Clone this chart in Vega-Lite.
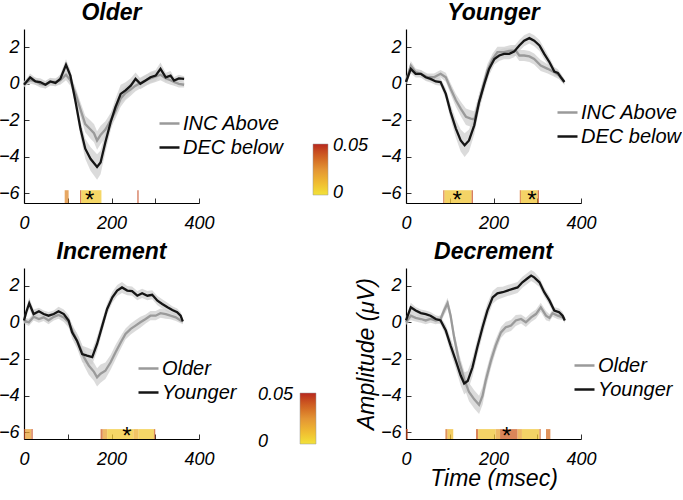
{
"$schema":"https://vega.github.io/schema/vega-lite/v6.json",
"autosize":{"type":"pad"},
"padding":{"left":-2,"top":2,"right":0,"bottom":0},
"background":"white",
"config":{
 "font":"Liberation Sans",
 "view":{"stroke":null},
 "scale":{"nice":false,"zero":false},
 "axis":{"domainColor":"#000","domainWidth":1.2,"tickColor":"#333","tickSize":-5,"tickWidth":1,"grid":false,"labelFont":"Liberation Sans","labelFontStyle":"italic","labelFontSize":18,"labelColor":"#000","titleFont":"Liberation Sans","titleFontStyle":"italic","titleFontWeight":"normal","titleFontSize":23,"titleColor":"#000","labelFlush":false},
 "axisX":{"labelPadding":16,"values":[0,50,100,150,200,250,300,350,400],"labelExpr":"datum.value % 200 === 0 ? datum.label : ''"},
 "axisY":{"labelPadding":10,"values":[-6,-4,-2,0,2]},
 "title":{"font":"Liberation Sans","fontSize":23,"fontWeight":"bold","fontStyle":"italic","color":"#000","offset":4},
 "legend":{"labelFont":"Liberation Sans","labelFontStyle":"italic","labelFontSize":20,"labelColor":"#000","symbolType":"stroke","symbolStrokeWidth":2.5,"symbolSize":400,"labelOffset":2,"rowPadding":2,"padding":0}
},
"datasets":{
 "erp":[
{"p":"Older","s":"INC Above","t":0,"v":0.0,"e":0.15},{"p":"Older","s":"INC Above","t":14,"v":0.2,"e":0.2},{"p":"Older","s":"INC Above","t":26,"v":0.15,"e":0.2},{"p":"Older","s":"INC Above","t":37,"v":0.0,"e":0.2},{"p":"Older","s":"INC Above","t":49,"v":-0.05,"e":0.2},{"p":"Older","s":"INC Above","t":60,"v":0.1,"e":0.2},{"p":"Older","s":"INC Above","t":72,"v":0.1,"e":0.2},{"p":"Older","s":"INC Above","t":83,"v":0.2,"e":0.25},{"p":"Older","s":"INC Above","t":96,"v":0.5,"e":0.3},{"p":"Older","s":"INC Above","t":106,"v":0.2,"e":0.3},{"p":"Older","s":"INC Above","t":118,"v":-0.55,"e":0.35},{"p":"Older","s":"INC Above","t":129,"v":-1.4,"e":0.4},{"p":"Older","s":"INC Above","t":140,"v":-2.2,"e":0.45},{"p":"Older","s":"INC Above","t":152,"v":-2.5,"e":0.5},{"p":"Older","s":"INC Above","t":160,"v":-2.7,"e":0.5},{"p":"Older","s":"INC Above","t":167,"v":-3.1,"e":0.5},{"p":"Older","s":"INC Above","t":175,"v":-2.8,"e":0.5},{"p":"Older","s":"INC Above","t":186,"v":-2.5,"e":0.45},{"p":"Older","s":"INC Above","t":198,"v":-2.0,"e":0.4},{"p":"Older","s":"INC Above","t":209,"v":-1.5,"e":0.4},{"p":"Older","s":"INC Above","t":221,"v":-0.8,"e":0.45},{"p":"Older","s":"INC Above","t":232,"v":-0.5,"e":0.4},{"p":"Older","s":"INC Above","t":244,"v":-0.3,"e":0.35},{"p":"Older","s":"INC Above","t":255,"v":-0.1,"e":0.3},{"p":"Older","s":"INC Above","t":266,"v":0.05,"e":0.3},{"p":"Older","s":"INC Above","t":278,"v":0.2,"e":0.3},{"p":"Older","s":"INC Above","t":289,"v":0.3,"e":0.3},{"p":"Older","s":"INC Above","t":301,"v":0.4,"e":0.3},{"p":"Older","s":"INC Above","t":312,"v":0.5,"e":0.3},{"p":"Older","s":"INC Above","t":324,"v":0.3,"e":0.25},{"p":"Older","s":"INC Above","t":335,"v":0.2,"e":0.25},{"p":"Older","s":"INC Above","t":343,"v":0.1,"e":0.2},{"p":"Older","s":"INC Above","t":354,"v":0.0,"e":0.2},{"p":"Older","s":"INC Above","t":366,"v":-0.05,"e":0.15},
{"p":"Older","s":"DEC below","t":0,"v":-0.05,"e":0.15},{"p":"Older","s":"DEC below","t":14,"v":0.36,"e":0.2},{"p":"Older","s":"DEC below","t":26,"v":0.13,"e":0.2},{"p":"Older","s":"DEC below","t":37,"v":0.1,"e":0.2},{"p":"Older","s":"DEC below","t":49,"v":-0.05,"e":0.2},{"p":"Older","s":"DEC below","t":60,"v":0.13,"e":0.2},{"p":"Older","s":"DEC below","t":72,"v":0.05,"e":0.2},{"p":"Older","s":"DEC below","t":83,"v":0.27,"e":0.25},{"p":"Older","s":"DEC below","t":96,"v":1.04,"e":0.3},{"p":"Older","s":"DEC below","t":106,"v":0.45,"e":0.3},{"p":"Older","s":"DEC below","t":118,"v":-1.0,"e":0.35},{"p":"Older","s":"DEC below","t":129,"v":-2.45,"e":0.45},{"p":"Older","s":"DEC below","t":140,"v":-3.55,"e":0.55},{"p":"Older","s":"DEC below","t":152,"v":-4.1,"e":0.65},{"p":"Older","s":"DEC below","t":167,"v":-4.55,"e":0.7},{"p":"Older","s":"DEC below","t":175,"v":-4.3,"e":0.65},{"p":"Older","s":"DEC below","t":186,"v":-3.2,"e":0.55},{"p":"Older","s":"DEC below","t":198,"v":-2.1,"e":0.45},{"p":"Older","s":"DEC below","t":209,"v":-1.27,"e":0.45},{"p":"Older","s":"DEC below","t":221,"v":-0.55,"e":0.5},{"p":"Older","s":"DEC below","t":232,"v":-0.36,"e":0.45},{"p":"Older","s":"DEC below","t":244,"v":-0.1,"e":0.4},{"p":"Older","s":"DEC below","t":255,"v":0.27,"e":0.35},{"p":"Older","s":"DEC below","t":266,"v":0.0,"e":0.3},{"p":"Older","s":"DEC below","t":278,"v":0.18,"e":0.3},{"p":"Older","s":"DEC below","t":289,"v":0.36,"e":0.3},{"p":"Older","s":"DEC below","t":301,"v":0.45,"e":0.3},{"p":"Older","s":"DEC below","t":312,"v":0.82,"e":0.35},{"p":"Older","s":"DEC below","t":324,"v":0.36,"e":0.25},{"p":"Older","s":"DEC below","t":335,"v":0.45,"e":0.25},{"p":"Older","s":"DEC below","t":343,"v":0.18,"e":0.2},{"p":"Older","s":"DEC below","t":354,"v":0.3,"e":0.2},{"p":"Older","s":"DEC below","t":366,"v":0.27,"e":0.15},
{"p":"Younger","s":"INC Above","t":0,"v":0.13,"e":0.15},{"p":"Younger","s":"INC Above","t":11,"v":1.0,"e":0.25},{"p":"Younger","s":"INC Above","t":22,"v":0.64,"e":0.2},{"p":"Younger","s":"INC Above","t":34,"v":0.55,"e":0.2},{"p":"Younger","s":"INC Above","t":49,"v":0.36,"e":0.2},{"p":"Younger","s":"INC Above","t":64,"v":0.36,"e":0.2},{"p":"Younger","s":"INC Above","t":79,"v":0.55,"e":0.2},{"p":"Younger","s":"INC Above","t":91,"v":0.36,"e":0.25},{"p":"Younger","s":"INC Above","t":102,"v":-0.27,"e":0.3},{"p":"Younger","s":"INC Above","t":114,"v":-0.9,"e":0.35},{"p":"Younger","s":"INC Above","t":125,"v":-1.36,"e":0.4},{"p":"Younger","s":"INC Above","t":137,"v":-1.8,"e":0.45},{"p":"Younger","s":"INC Above","t":148,"v":-1.9,"e":0.45},{"p":"Younger","s":"INC Above","t":156,"v":-1.95,"e":0.45},{"p":"Younger","s":"INC Above","t":163,"v":-1.36,"e":0.45},{"p":"Younger","s":"INC Above","t":175,"v":-0.27,"e":0.4},{"p":"Younger","s":"INC Above","t":186,"v":0.73,"e":0.35},{"p":"Younger","s":"INC Above","t":198,"v":1.36,"e":0.3},{"p":"Younger","s":"INC Above","t":209,"v":1.73,"e":0.3},{"p":"Younger","s":"INC Above","t":224,"v":1.73,"e":0.3},{"p":"Younger","s":"INC Above","t":240,"v":1.82,"e":0.3},{"p":"Younger","s":"INC Above","t":251,"v":1.82,"e":0.3},{"p":"Younger","s":"INC Above","t":259,"v":1.55,"e":0.3},{"p":"Younger","s":"INC Above","t":270,"v":1.55,"e":0.3},{"p":"Younger","s":"INC Above","t":282,"v":1.5,"e":0.3},{"p":"Younger","s":"INC Above","t":293,"v":1.36,"e":0.3},{"p":"Younger","s":"INC Above","t":308,"v":1.0,"e":0.3},{"p":"Younger","s":"INC Above","t":324,"v":0.82,"e":0.25},{"p":"Younger","s":"INC Above","t":339,"v":0.64,"e":0.25},{"p":"Younger","s":"INC Above","t":350,"v":0.45,"e":0.2},{"p":"Younger","s":"INC Above","t":362,"v":0.1,"e":0.15},
{"p":"Younger","s":"DEC below","t":0,"v":0.1,"e":0.15},{"p":"Younger","s":"DEC below","t":11,"v":0.82,"e":0.25},{"p":"Younger","s":"DEC below","t":22,"v":0.55,"e":0.2},{"p":"Younger","s":"DEC below","t":34,"v":0.55,"e":0.2},{"p":"Younger","s":"DEC below","t":45,"v":0.36,"e":0.2},{"p":"Younger","s":"DEC below","t":56,"v":0.27,"e":0.2},{"p":"Younger","s":"DEC below","t":68,"v":0.13,"e":0.2},{"p":"Younger","s":"DEC below","t":79,"v":0.1,"e":0.2},{"p":"Younger","s":"DEC below","t":91,"v":-0.55,"e":0.3},{"p":"Younger","s":"DEC below","t":102,"v":-1.55,"e":0.4},{"p":"Younger","s":"DEC below","t":114,"v":-2.45,"e":0.5},{"p":"Younger","s":"DEC below","t":125,"v":-3.1,"e":0.6},{"p":"Younger","s":"DEC below","t":134,"v":-3.36,"e":0.65},{"p":"Younger","s":"DEC below","t":144,"v":-3.1,"e":0.6},{"p":"Younger","s":"DEC below","t":156,"v":-2.27,"e":0.5},{"p":"Younger","s":"DEC below","t":167,"v":-1.0,"e":0.45},{"p":"Younger","s":"DEC below","t":179,"v":0.0,"e":0.4},{"p":"Younger","s":"DEC below","t":190,"v":0.82,"e":0.35},{"p":"Younger","s":"DEC below","t":202,"v":1.36,"e":0.3},{"p":"Younger","s":"DEC below","t":213,"v":1.55,"e":0.3},{"p":"Younger","s":"DEC below","t":224,"v":1.64,"e":0.3},{"p":"Younger","s":"DEC below","t":236,"v":1.64,"e":0.3},{"p":"Younger","s":"DEC below","t":247,"v":1.76,"e":0.3},{"p":"Younger","s":"DEC below","t":259,"v":2.1,"e":0.3},{"p":"Younger","s":"DEC below","t":270,"v":2.36,"e":0.3},{"p":"Younger","s":"DEC below","t":282,"v":2.5,"e":0.3},{"p":"Younger","s":"DEC below","t":293,"v":2.36,"e":0.3},{"p":"Younger","s":"DEC below","t":305,"v":2.1,"e":0.3},{"p":"Younger","s":"DEC below","t":316,"v":1.64,"e":0.3},{"p":"Younger","s":"DEC below","t":328,"v":1.18,"e":0.25},{"p":"Younger","s":"DEC below","t":339,"v":0.67,"e":0.25},{"p":"Younger","s":"DEC below","t":347,"v":0.6,"e":0.2},{"p":"Younger","s":"DEC below","t":354,"v":0.36,"e":0.2},{"p":"Younger","s":"DEC below","t":362,"v":0.1,"e":0.15},
{"p":"Increment","s":"Older","t":0,"v":0.1,"e":0.15},{"p":"Increment","s":"Older","t":11,"v":0.0,"e":0.2},{"p":"Increment","s":"Older","t":22,"v":0.3,"e":0.2},{"p":"Increment","s":"Older","t":34,"v":0.18,"e":0.2},{"p":"Increment","s":"Older","t":45,"v":0.27,"e":0.2},{"p":"Increment","s":"Older","t":56,"v":0.1,"e":0.2},{"p":"Increment","s":"Older","t":68,"v":0.3,"e":0.2},{"p":"Increment","s":"Older","t":79,"v":0.4,"e":0.2},{"p":"Increment","s":"Older","t":91,"v":0.27,"e":0.25},{"p":"Increment","s":"Older","t":102,"v":0.0,"e":0.3},{"p":"Increment","s":"Older","t":114,"v":-0.64,"e":0.35},{"p":"Increment","s":"Older","t":125,"v":-1.18,"e":0.4},{"p":"Increment","s":"Older","t":137,"v":-1.9,"e":0.45},{"p":"Increment","s":"Older","t":148,"v":-2.36,"e":0.5},{"p":"Increment","s":"Older","t":160,"v":-2.7,"e":0.5},{"p":"Increment","s":"Older","t":167,"v":-3.0,"e":0.5},{"p":"Increment","s":"Older","t":175,"v":-2.8,"e":0.5},{"p":"Increment","s":"Older","t":186,"v":-2.64,"e":0.45},{"p":"Increment","s":"Older","t":198,"v":-2.18,"e":0.4},{"p":"Increment","s":"Older","t":209,"v":-1.64,"e":0.4},{"p":"Increment","s":"Older","t":221,"v":-1.1,"e":0.35},{"p":"Increment","s":"Older","t":232,"v":-0.64,"e":0.3},{"p":"Increment","s":"Older","t":244,"v":-0.36,"e":0.3},{"p":"Increment","s":"Older","t":255,"v":-0.18,"e":0.3},{"p":"Increment","s":"Older","t":266,"v":0.0,"e":0.3},{"p":"Increment","s":"Older","t":278,"v":0.18,"e":0.25},{"p":"Increment","s":"Older","t":289,"v":0.36,"e":0.25},{"p":"Increment","s":"Older","t":301,"v":0.36,"e":0.25},{"p":"Increment","s":"Older","t":312,"v":0.5,"e":0.25},{"p":"Increment","s":"Older","t":324,"v":0.45,"e":0.25},{"p":"Increment","s":"Older","t":335,"v":0.36,"e":0.2},{"p":"Increment","s":"Older","t":347,"v":0.27,"e":0.2},{"p":"Increment","s":"Older","t":358,"v":0.1,"e":0.15},{"p":"Increment","s":"Older","t":363,"v":0.04,"e":0.15},
{"p":"Increment","s":"Younger","t":0,"v":0.1,"e":0.15},{"p":"Increment","s":"Younger","t":5,"v":0.55,"e":0.25},{"p":"Increment","s":"Younger","t":12,"v":1.04,"e":0.3},{"p":"Increment","s":"Younger","t":22,"v":0.45,"e":0.25},{"p":"Increment","s":"Younger","t":34,"v":0.6,"e":0.2},{"p":"Increment","s":"Younger","t":45,"v":0.45,"e":0.2},{"p":"Increment","s":"Younger","t":56,"v":0.36,"e":0.2},{"p":"Increment","s":"Younger","t":68,"v":0.45,"e":0.2},{"p":"Increment","s":"Younger","t":79,"v":0.6,"e":0.25},{"p":"Increment","s":"Younger","t":91,"v":0.45,"e":0.25},{"p":"Increment","s":"Younger","t":102,"v":0.1,"e":0.3},{"p":"Increment","s":"Younger","t":110,"v":-0.55,"e":0.35},{"p":"Increment","s":"Younger","t":121,"v":-1.0,"e":0.4},{"p":"Increment","s":"Younger","t":133,"v":-1.73,"e":0.45},{"p":"Increment","s":"Younger","t":144,"v":-1.82,"e":0.45},{"p":"Increment","s":"Younger","t":156,"v":-1.9,"e":0.4},{"p":"Increment","s":"Younger","t":167,"v":-1.18,"e":0.4},{"p":"Increment","s":"Younger","t":179,"v":-0.18,"e":0.35},{"p":"Increment","s":"Younger","t":190,"v":0.73,"e":0.3},{"p":"Increment","s":"Younger","t":202,"v":1.36,"e":0.3},{"p":"Increment","s":"Younger","t":213,"v":1.73,"e":0.3},{"p":"Increment","s":"Younger","t":224,"v":1.9,"e":0.3},{"p":"Increment","s":"Younger","t":236,"v":1.73,"e":0.25},{"p":"Increment","s":"Younger","t":247,"v":1.7,"e":0.25},{"p":"Increment","s":"Younger","t":259,"v":1.45,"e":0.25},{"p":"Increment","s":"Younger","t":270,"v":1.58,"e":0.25},{"p":"Increment","s":"Younger","t":282,"v":1.45,"e":0.25},{"p":"Increment","s":"Younger","t":293,"v":1.5,"e":0.25},{"p":"Increment","s":"Younger","t":305,"v":1.18,"e":0.25},{"p":"Increment","s":"Younger","t":316,"v":1.0,"e":0.25},{"p":"Increment","s":"Younger","t":328,"v":0.82,"e":0.25},{"p":"Increment","s":"Younger","t":339,"v":0.67,"e":0.2},{"p":"Increment","s":"Younger","t":350,"v":0.55,"e":0.2},{"p":"Increment","s":"Younger","t":358,"v":0.36,"e":0.2},{"p":"Increment","s":"Younger","t":363,"v":0.05,"e":0.15},
{"p":"Decrement","s":"Older","t":0,"v":0.0,"e":0.15},{"p":"Decrement","s":"Older","t":11,"v":0.36,"e":0.25},{"p":"Decrement","s":"Older","t":22,"v":0.24,"e":0.2},{"p":"Decrement","s":"Older","t":34,"v":0.18,"e":0.2},{"p":"Decrement","s":"Older","t":45,"v":0.1,"e":0.2},{"p":"Decrement","s":"Older","t":56,"v":0.18,"e":0.2},{"p":"Decrement","s":"Older","t":68,"v":0.1,"e":0.2},{"p":"Decrement","s":"Older","t":79,"v":0.18,"e":0.2},{"p":"Decrement","s":"Older","t":87,"v":0.64,"e":0.25},{"p":"Decrement","s":"Older","t":95,"v":1.04,"e":0.3},{"p":"Decrement","s":"Older","t":102,"v":0.36,"e":0.3},{"p":"Decrement","s":"Older","t":110,"v":-0.82,"e":0.35},{"p":"Decrement","s":"Older","t":121,"v":-2.1,"e":0.4},{"p":"Decrement","s":"Older","t":133,"v":-3.1,"e":0.45},{"p":"Decrement","s":"Older","t":144,"v":-3.8,"e":0.5},{"p":"Decrement","s":"Older","t":156,"v":-4.2,"e":0.5},{"p":"Decrement","s":"Older","t":167,"v":-4.5,"e":0.5},{"p":"Decrement","s":"Older","t":175,"v":-4.0,"e":0.5},{"p":"Decrement","s":"Older","t":182,"v":-3.2,"e":0.45},{"p":"Decrement","s":"Older","t":194,"v":-2.1,"e":0.4},{"p":"Decrement","s":"Older","t":205,"v":-1.27,"e":0.35},{"p":"Decrement","s":"Older","t":217,"v":-0.55,"e":0.3},{"p":"Decrement","s":"Older","t":228,"v":-0.27,"e":0.3},{"p":"Decrement","s":"Older","t":240,"v":-0.18,"e":0.3},{"p":"Decrement","s":"Older","t":251,"v":0.1,"e":0.3},{"p":"Decrement","s":"Older","t":263,"v":0.18,"e":0.25},{"p":"Decrement","s":"Older","t":274,"v":0.0,"e":0.25},{"p":"Decrement","s":"Older","t":286,"v":0.27,"e":0.25},{"p":"Decrement","s":"Older","t":297,"v":0.45,"e":0.25},{"p":"Decrement","s":"Older","t":308,"v":0.82,"e":0.25},{"p":"Decrement","s":"Older","t":320,"v":0.36,"e":0.25},{"p":"Decrement","s":"Older","t":328,"v":0.24,"e":0.2},{"p":"Decrement","s":"Older","t":335,"v":0.5,"e":0.2},{"p":"Decrement","s":"Older","t":347,"v":0.36,"e":0.2},{"p":"Decrement","s":"Older","t":358,"v":0.27,"e":0.15},{"p":"Decrement","s":"Older","t":363,"v":0.18,"e":0.15},
{"p":"Decrement","s":"Younger","t":0,"v":0.1,"e":0.15},{"p":"Decrement","s":"Younger","t":11,"v":0.82,"e":0.25},{"p":"Decrement","s":"Younger","t":22,"v":0.64,"e":0.2},{"p":"Decrement","s":"Younger","t":34,"v":0.5,"e":0.2},{"p":"Decrement","s":"Younger","t":45,"v":0.45,"e":0.2},{"p":"Decrement","s":"Younger","t":56,"v":0.36,"e":0.2},{"p":"Decrement","s":"Younger","t":68,"v":0.18,"e":0.2},{"p":"Decrement","s":"Younger","t":79,"v":0.1,"e":0.2},{"p":"Decrement","s":"Younger","t":91,"v":-0.45,"e":0.3},{"p":"Decrement","s":"Younger","t":102,"v":-1.27,"e":0.4},{"p":"Decrement","s":"Younger","t":114,"v":-2.1,"e":0.45},{"p":"Decrement","s":"Younger","t":125,"v":-2.9,"e":0.55},{"p":"Decrement","s":"Younger","t":133,"v":-3.33,"e":0.6},{"p":"Decrement","s":"Younger","t":141,"v":-3.2,"e":0.55},{"p":"Decrement","s":"Younger","t":152,"v":-2.45,"e":0.5},{"p":"Decrement","s":"Younger","t":163,"v":-1.36,"e":0.45},{"p":"Decrement","s":"Younger","t":175,"v":-0.27,"e":0.45},{"p":"Decrement","s":"Younger","t":186,"v":0.64,"e":0.4},{"p":"Decrement","s":"Younger","t":198,"v":1.36,"e":0.35},{"p":"Decrement","s":"Younger","t":209,"v":1.58,"e":0.35},{"p":"Decrement","s":"Younger","t":221,"v":1.64,"e":0.3},{"p":"Decrement","s":"Younger","t":232,"v":1.73,"e":0.3},{"p":"Decrement","s":"Younger","t":244,"v":1.82,"e":0.3},{"p":"Decrement","s":"Younger","t":255,"v":1.9,"e":0.3},{"p":"Decrement","s":"Younger","t":266,"v":2.18,"e":0.3},{"p":"Decrement","s":"Younger","t":278,"v":2.4,"e":0.3},{"p":"Decrement","s":"Younger","t":286,"v":2.55,"e":0.3},{"p":"Decrement","s":"Younger","t":293,"v":2.45,"e":0.3},{"p":"Decrement","s":"Younger","t":305,"v":2.18,"e":0.25},{"p":"Decrement","s":"Younger","t":316,"v":1.64,"e":0.25},{"p":"Decrement","s":"Younger","t":328,"v":1.18,"e":0.25},{"p":"Decrement","s":"Younger","t":339,"v":0.64,"e":0.2},{"p":"Decrement","s":"Younger","t":350,"v":0.55,"e":0.2},{"p":"Decrement","s":"Younger","t":358,"v":0.36,"e":0.2},{"p":"Decrement","s":"Younger","t":363,"v":0.1,"e":0.15}
 ],
 "sig":[
{"p":"Older","t0":93,"t1":102,"pv":0.028},{"p":"Older","t0":128,"t1":131,"pv":0.042},{"p":"Older","t0":131,"t1":177,"pv":0.006},{"p":"Older","t0":259,"t1":262,"pv":0.045},
{"p":"Younger","t0":85,"t1":88,"pv":0.04},{"p":"Younger","t0":88,"t1":150,"pv":0.008},{"p":"Younger","t0":150,"t1":153,"pv":0.045},{"p":"Younger","t0":260,"t1":263,"pv":0.035},{"p":"Younger","t0":263,"t1":301,"pv":0.008},{"p":"Younger","t0":301,"t1":304,"pv":0.045},
{"p":"Increment","t0":0,"t1":3,"pv":0.045},{"p":"Increment","t0":3,"t1":17,"pv":0.02},{"p":"Increment","t0":17,"t1":20,"pv":0.045},{"p":"Increment","t0":175,"t1":180,"pv":0.04},{"p":"Increment","t0":180,"t1":190,"pv":0.02},{"p":"Increment","t0":190,"t1":250,"pv":0.006},{"p":"Increment","t0":250,"t1":262,"pv":0.015},{"p":"Increment","t0":262,"t1":297,"pv":0.006},{"p":"Increment","t0":297,"t1":300,"pv":0.04},
{"p":"Decrement","t0":0,"t1":4,"pv":0.045},{"p":"Decrement","t0":90,"t1":95,"pv":0.035},{"p":"Decrement","t0":95,"t1":108,"pv":0.01},{"p":"Decrement","t0":160,"t1":165,"pv":0.04},{"p":"Decrement","t0":165,"t1":205,"pv":0.008},{"p":"Decrement","t0":205,"t1":215,"pv":0.02},{"p":"Decrement","t0":215,"t1":255,"pv":0.04},{"p":"Decrement","t0":255,"t1":265,"pv":0.02},{"p":"Decrement","t0":265,"t1":305,"pv":0.008},{"p":"Decrement","t0":305,"t1":308,"pv":0.04},{"p":"Decrement","t0":320,"t1":330,"pv":0.035}
 ],
 "star":[{"p":"Older","t":150},{"p":"Younger","t":117},{"p":"Younger","t":288},{"p":"Increment","t":235},{"p":"Decrement","t":230}]
},
"spacing":{"row":65,"column":207},
"columns":2,
"bounds":"flush",
"resolve":{"scale":{"x":"independent","y":"independent","fill":"independent","stroke":"independent"},"axis":{"x":"independent","y":"independent"},"legend":{"fill":"independent","stroke":"independent"}},
"concat":[
 {"width":175,"height":174,"title":"Older",
  "layer":[
   {"data":{"name":"sig"},"transform":[{"filter":"datum.p==='Older'"}],"mark":{"type":"rect","fillOpacity":0.75},
    "encoding":{"x":{"field":"t0","type":"quantitative","title":null,"scale":{"domain":[0,400],"nice":false}},"x2":{"field":"t1"},
     "y":{"datum":-5.82,"type":"quantitative","title":null,"scale":{"domain":[-6.52,3],"nice":false}},"y2":{"datum":-6.52},
     "fill":{"field":"pv","type":"quantitative","scale":{"domain":[-0.002,0.052],"range":["#f2e23a","#e39434","#b8261e"]},
       "legend":{"orient":"none","legendX":289,"legendY":115,"title":null,"direction":"vertical","gradientLength":51,"gradientThickness":15,"values":[0,0.05],"labelExpr":"datum.value < 0.025 ? '0' : '0.05'","labelOffset":5,"labelFontSize":18,"gradientStrokeColor":"#999","gradientStrokeWidth":0.5}}}},
   {"data":{"name":"erp"},"transform":[{"filter":"datum.p==='Older'"}],"mark":{"type":"errorband","band":{"color":"#cfcfcf","opacity":0.75}},
    "encoding":{"x":{"field":"t","type":"quantitative","title":null},"y":{"field":"v","type":"quantitative","title":null},"yError":{"field":"e"},"detail":{"field":"s"}}},
   {"data":{"name":"erp"},"transform":[{"filter":"datum.p==='Older'"}],"mark":{"type":"line","strokeWidth":2.3},
    "encoding":{"x":{"field":"t","type":"quantitative","title":null},"y":{"field":"v","type":"quantitative","title":null},
     "stroke":{"field":"s","type":"nominal","scale":{"domain":["INC Above","DEC below"],"range":["#9a9a9a","#151515"]},"legend":{"orient":"none","legendX":134,"legendY":83,"title":null}}}},
   {"data":{"name":"star"},"transform":[{"filter":"datum.p==='Older'"}],"mark":{"type":"text","text":"*","fontSize":24,"font":"Liberation Sans","baseline":"middle","dy":4},
    "encoding":{"x":{"field":"t","type":"quantitative","title":null},"y":{"datum":-6.2,"type":"quantitative","title":null}}}
  ]},
 {"width":175,"height":174,"title":"Younger",
  "layer":[
   {"data":{"name":"sig"},"transform":[{"filter":"datum.p==='Younger'"}],"mark":{"type":"rect","fillOpacity":0.75},
    "encoding":{"x":{"field":"t0","type":"quantitative","title":null,"scale":{"domain":[0,400],"nice":false}},"x2":{"field":"t1"},
     "y":{"datum":-5.82,"type":"quantitative","title":null,"scale":{"domain":[-6.52,3],"nice":false}},"y2":{"datum":-6.52},
     "fill":{"field":"pv","type":"quantitative","scale":{"domain":[-0.002,0.052],"range":["#f2e23a","#e39434","#b8261e"]},"legend":null}}},
   {"data":{"name":"erp"},"transform":[{"filter":"datum.p==='Younger'"}],"mark":{"type":"errorband","band":{"color":"#cfcfcf","opacity":0.75}},
    "encoding":{"x":{"field":"t","type":"quantitative","title":null},"y":{"field":"v","type":"quantitative","title":null},"yError":{"field":"e"},"detail":{"field":"s"}}},
   {"data":{"name":"erp"},"transform":[{"filter":"datum.p==='Younger'"}],"mark":{"type":"line","strokeWidth":2.3},
    "encoding":{"x":{"field":"t","type":"quantitative","title":null},"y":{"field":"v","type":"quantitative","title":null},
     "stroke":{"field":"s","type":"nominal","scale":{"domain":["INC Above","DEC below"],"range":["#9a9a9a","#151515"]},"legend":{"orient":"none","legendX":150,"legendY":72,"title":null}}}},
   {"data":{"name":"star"},"transform":[{"filter":"datum.p==='Younger'"}],"mark":{"type":"text","text":"*","fontSize":24,"font":"Liberation Sans","baseline":"middle","dy":4},
    "encoding":{"x":{"field":"t","type":"quantitative","title":null},"y":{"datum":-6.2,"type":"quantitative","title":null}}}
  ]},
 {"width":175,"height":171,"title":"Increment",
  "layer":[
   {"data":{"name":"sig"},"transform":[{"filter":"datum.p==='Increment'"}],"mark":{"type":"rect","fillOpacity":0.75},
    "encoding":{"x":{"field":"t0","type":"quantitative","title":null,"scale":{"domain":[0,400],"nice":false}},"x2":{"field":"t1"},
     "y":{"datum":-5.82,"type":"quantitative","title":null,"scale":{"domain":[-6.36,2.96],"nice":false}},"y2":{"datum":-6.36},
     "fill":{"field":"pv","type":"quantitative","scale":{"domain":[-0.002,0.052],"range":["#f2e23a","#e39434","#b8261e"]},
       "legend":{"orient":"none","legendX":276,"legendY":125,"title":null,"direction":"vertical","gradientLength":51,"gradientThickness":16,"values":[0,0.05],"labelExpr":"datum.value < 0.025 ? '\u00a0\u00a0\u00a0\u00a0\u00a00' : '0.05'","labelOffset":-58,"labelFontSize":18,"gradientStrokeColor":"#999","gradientStrokeWidth":0.5}}}},
   {"data":{"name":"erp"},"transform":[{"filter":"datum.p==='Increment'"}],"mark":{"type":"errorband","band":{"color":"#cfcfcf","opacity":0.75}},
    "encoding":{"x":{"field":"t","type":"quantitative","title":null},"y":{"field":"v","type":"quantitative","title":null},"yError":{"field":"e"},"detail":{"field":"s"}}},
   {"data":{"name":"erp"},"transform":[{"filter":"datum.p==='Increment'"}],"mark":{"type":"line","strokeWidth":2.3},
    "encoding":{"x":{"field":"t","type":"quantitative","title":null},"y":{"field":"v","type":"quantitative","title":null},
     "stroke":{"field":"s","type":"nominal","scale":{"domain":["Older","Younger"],"range":["#9a9a9a","#151515"]},"legend":{"orient":"none","legendX":113,"legendY":89,"title":null}}}},
   {"data":{"name":"star"},"transform":[{"filter":"datum.p==='Increment'"}],"mark":{"type":"text","text":"*","fontSize":24,"font":"Liberation Sans","baseline":"middle","dy":4},
    "encoding":{"x":{"field":"t","type":"quantitative","title":null},"y":{"datum":-6.05,"type":"quantitative","title":null}}}
  ]},
 {"width":175,"height":171,"title":"Decrement",
  "layer":[
   {"data":{"name":"sig"},"transform":[{"filter":"datum.p==='Decrement'"}],"mark":{"type":"rect","fillOpacity":0.75},
    "encoding":{"x":{"field":"t0","type":"quantitative","title":"Time (msec)","scale":{"domain":[0,400],"nice":false},"axis":{"titlePadding":-1}},"x2":{"field":"t1"},
     "y":{"datum":-5.82,"type":"quantitative","title":"Amplitude (μV)","scale":{"domain":[-6.36,2.96],"nice":false},"axis":{"titlePadding":2}},"y2":{"datum":-6.36},
     "fill":{"field":"pv","type":"quantitative","scale":{"domain":[-0.002,0.052],"range":["#f2e23a","#e39434","#b8261e"]},"legend":null}}},
   {"data":{"name":"erp"},"transform":[{"filter":"datum.p==='Decrement'"}],"mark":{"type":"errorband","band":{"color":"#cfcfcf","opacity":0.75}},
    "encoding":{"x":{"field":"t","type":"quantitative","title":"Time (msec)"},"y":{"field":"v","type":"quantitative","title":"Amplitude (μV)"},"yError":{"field":"e"},"detail":{"field":"s"}}},
   {"data":{"name":"erp"},"transform":[{"filter":"datum.p==='Decrement'"}],"mark":{"type":"line","strokeWidth":2.3},
    "encoding":{"x":{"field":"t","type":"quantitative","title":"Time (msec)"},"y":{"field":"v","type":"quantitative","title":"Amplitude (μV)"},
     "stroke":{"field":"s","type":"nominal","scale":{"domain":["Older","Younger"],"range":["#9a9a9a","#151515"]},"legend":{"orient":"none","legendX":167,"legendY":86,"title":null}}}},
   {"data":{"name":"star"},"transform":[{"filter":"datum.p==='Decrement'"}],"mark":{"type":"text","text":"*","fontSize":24,"font":"Liberation Sans","baseline":"middle","dy":4},
    "encoding":{"x":{"field":"t","type":"quantitative","title":"Time (msec)"},"y":{"datum":-6.05,"type":"quantitative","title":"Amplitude (μV)"}}}
  ]}
]
}
